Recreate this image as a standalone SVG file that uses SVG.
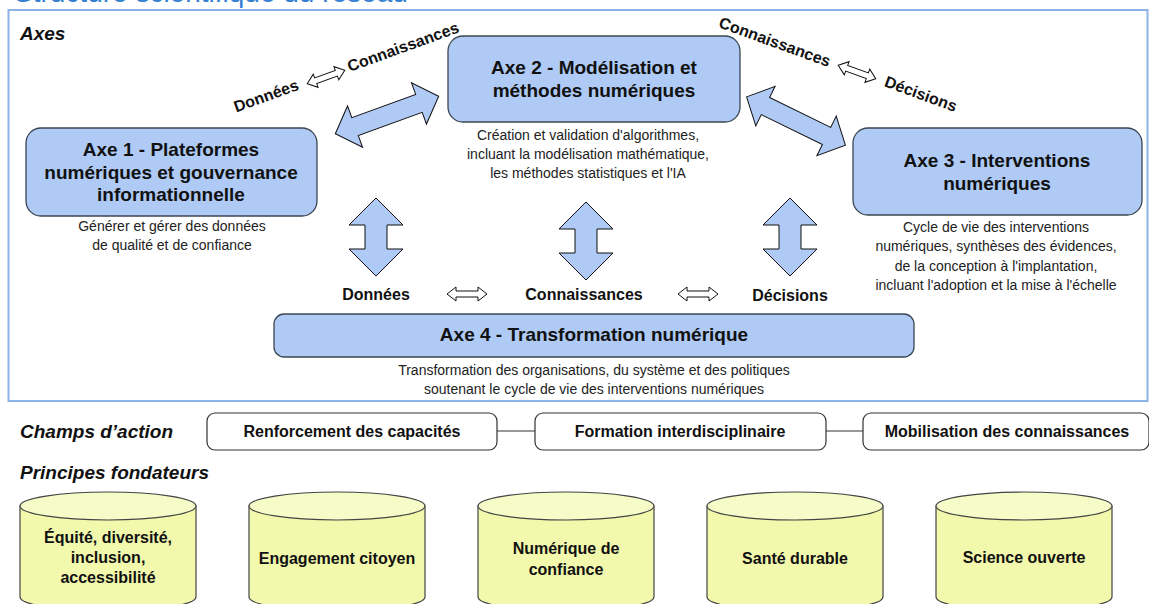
<svg xmlns="http://www.w3.org/2000/svg" width="1149" height="604" viewBox="0 0 1149 604">
<style>
text{font-family:"Liberation Sans",Arial,sans-serif;fill:#111}
.title{font-size:28px;fill:#3580d2}
.sec{font-size:19px;font-weight:bold;font-style:italic}
.axe{fill:#aecaf5;stroke:#3b4653;stroke-width:1.3}
.ta{font-size:19px;font-weight:bold;text-anchor:middle}
.td{font-size:14px;text-anchor:middle;fill:#222}
.tl{font-size:16px;font-weight:bold;text-anchor:middle}
.big{fill:#aecaf5;stroke:#111;stroke-width:1}
.sm{fill:#fff;stroke:#111;stroke-width:1}
.box{fill:#fff;stroke:#333;stroke-width:1.2}
.cyl{fill:#f2f8ac;stroke:#444;stroke-width:1.2}
.cylt{fill:#f6fcc8;stroke:#444;stroke-width:1.2}
.link{stroke:#333;stroke-width:1.2}
</style>
<defs>
<path id="varrow" d="M0,-39 L27,-12 L11,-12 L11,12 L27,12 L0,39 L-27,12 L-11,12 L-11,-12 L-27,-12 Z"/>
<path id="darrow" d="M-55,0 L-34,-22 L-34,-9.5 L34,-9.5 L34,-22 L55,0 L34,22 L34,9.5 L-34,9.5 L-34,22 Z"/>
<path id="sarrow" d="M-20,0 L-11,-7 L-11,-3 L11,-3 L11,-7 L20,0 L11,7 L11,3 L-11,3 L-11,7 Z"/>
<path id="cylbody" d="M0,0 L0,91 A88,14 0 0 0 176,91 L176,0 Z"/>
</defs>

<text class="title" x="14" y="2">Structure scientifique du réseau</text>
<rect x="8.5" y="10" width="1139" height="391" fill="none" stroke="#8db2e8" stroke-width="2"/>
<text class="sec" x="20" y="40">Axes</text>

<g id="axe1">
<rect class="axe" x="26" y="128" width="291" height="88" rx="15"/>
<text class="ta" x="171" y="156">Axe 1 - Plateformes</text>
<text class="ta" x="171" y="179">numériques et gouvernance</text>
<text class="ta" x="171" y="201">informationnelle</text>
<text class="td" x="172" y="231">Générer et gérer des données</text>
<text class="td" x="172" y="250">de qualité et de confiance</text>
</g>

<g id="axe2">
<rect class="axe" x="448" y="36" width="292" height="86" rx="15"/>
<text class="ta" x="594" y="74">Axe 2 - Modélisation et</text>
<text class="ta" x="594" y="97">méthodes numériques</text>
<text class="td" x="588" y="140">Création et validation d'algorithmes,</text>
<text class="td" x="588" y="159">incluant la modélisation mathématique,</text>
<text class="td" x="588" y="178">les méthodes statistiques et l'IA</text>
</g>

<g id="axe3">
<rect class="axe" x="853" y="128" width="289" height="87" rx="15"/>
<text class="ta" x="997" y="167">Axe 3 - Interventions</text>
<text class="ta" x="997" y="190">numériques</text>
<text class="td" x="996" y="232">Cycle de vie des interventions</text>
<text class="td" x="996" y="251">numériques, synthèses des évidences,</text>
<text class="td" x="996" y="271">de la conception à l'implantation,</text>
<text class="td" x="996" y="290">incluant l'adoption et la mise à l'échelle</text>
</g>

<g id="axe4">
<rect class="axe" x="274" y="314" width="640" height="43" rx="10"/>
<text class="ta" x="594" y="341">Axe 4 - Transformation numérique</text>
<text class="td" x="594" y="375">Transformation des organisations, du système et des politiques</text>
<text class="td" x="594" y="394">soutenant le cycle de vie des interventions numériques</text>
</g>

<g id="connectors">
<use href="#darrow" class="big" transform="translate(387,115) rotate(-20)"/>
<use href="#darrow" class="big" transform="translate(796,121) rotate(26)"/>
<use href="#varrow" class="big" transform="translate(376,237)"/>
<use href="#varrow" class="big" transform="translate(586,241)"/>
<use href="#varrow" class="big" transform="translate(790,237)"/>
<use href="#sarrow" class="sm" transform="translate(326,77) rotate(-20)"/>
<use href="#sarrow" class="sm" transform="translate(857,72) rotate(20)"/>
<use href="#sarrow" class="sm" transform="translate(467,294)"/>
<use href="#sarrow" class="sm" transform="translate(698,294)"/>
<line class="link" x1="497" y1="431" x2="535" y2="431"/>
<line class="link" x1="826" y1="431" x2="863" y2="431"/>
</g>

<g id="flow-labels">
<text class="tl" transform="translate(268,101) rotate(-20)">Données</text>
<text class="tl" transform="translate(405,52) rotate(-20)">Connaissances</text>
<text class="tl" transform="translate(773,47) rotate(20)">Connaissances</text>
<text class="tl" transform="translate(919,99) rotate(20)">Décisions</text>
<text class="tl" x="376" y="300">Données</text>
<text class="tl" x="584" y="300">Connaissances</text>
<text class="tl" x="790" y="301">Décisions</text>
</g>

<text class="sec" x="20" y="438">Champs d’action</text>
<g id="champ1"><rect class="box" x="207" y="413" width="290" height="37" rx="8"/><text class="tl" x="352" y="437">Renforcement des capacités</text></g>
<g id="champ2"><rect class="box" x="535" y="413" width="291" height="37" rx="8"/><text class="tl" x="680" y="437">Formation interdisciplinaire</text></g>
<g id="champ3"><rect class="box" x="863" y="413" width="286" height="37" rx="8"/><text class="tl" x="1007" y="437">Mobilisation des connaissances</text></g>

<text class="sec" x="20" y="479">Principes fondateurs</text>
<g id="p1" transform="translate(20,506)"><use href="#cylbody" class="cyl"/><ellipse class="cylt" cx="88" cy="0" rx="88" ry="14"/>
<text class="tl" x="88" y="37">Équité, diversité,</text><text class="tl" x="88" y="57">inclusion,</text><text class="tl" x="88" y="77">accessibilité</text></g>
<g id="p2" transform="translate(249,506)"><use href="#cylbody" class="cyl"/><ellipse class="cylt" cx="88" cy="0" rx="88" ry="14"/>
<text class="tl" x="88" y="58">Engagement citoyen</text></g>
<g id="p3" transform="translate(478,506)"><use href="#cylbody" class="cyl"/><ellipse class="cylt" cx="88" cy="0" rx="88" ry="14"/>
<text class="tl" x="88" y="48">Numérique de</text><text class="tl" x="88" y="69">confiance</text></g>
<g id="p4" transform="translate(707,506)"><use href="#cylbody" class="cyl"/><ellipse class="cylt" cx="88" cy="0" rx="88" ry="14"/>
<text class="tl" x="88" y="58">Santé durable</text></g>
<g id="p5" transform="translate(936,506)"><use href="#cylbody" class="cyl"/><ellipse class="cylt" cx="88" cy="0" rx="88" ry="14"/>
<text class="tl" x="88" y="57">Science ouverte</text></g>
</svg>
